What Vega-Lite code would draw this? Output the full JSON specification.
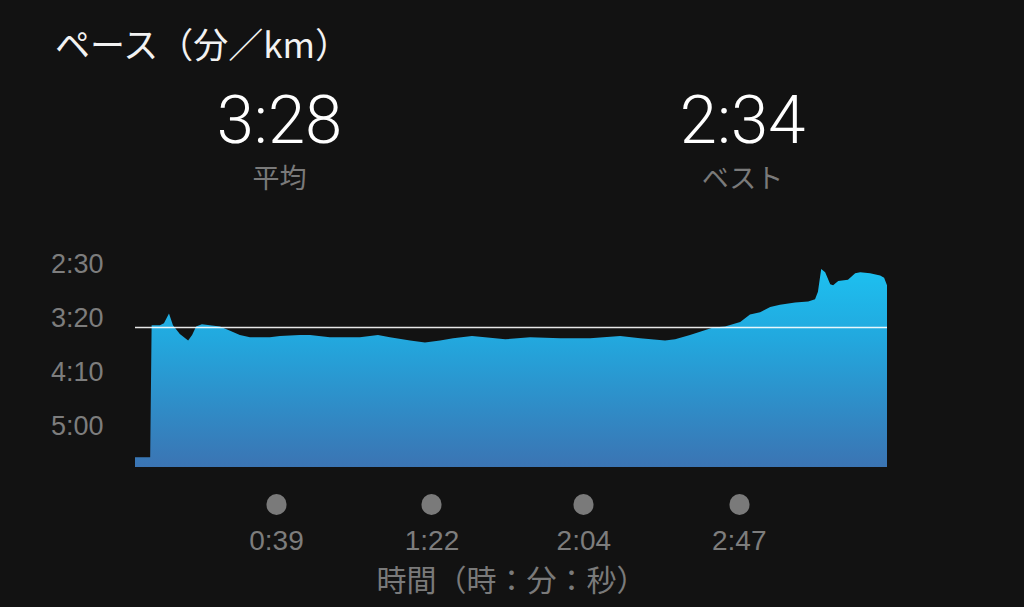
{
  "$schema": "https://vega.github.io/schema/vega-lite/v6.json",
  "background": "#121212",
  "padding": {"left": 50, "top": 30, "right": 140, "bottom": 16},
  "config": {
    "view": {"stroke": null},
    "concat": {"spacing": 49}
  },
  "vconcat": [
    {
      "width": 752,
      "height": 84,
      "title": {
        "text": "ペース（分／km）",
        "anchor": "start",
        "dx": -80,
        "offset": 16,
        "font": "Noto Sans CJK JP",
        "fontSize": 35,
        "fontWeight": "normal",
        "color": "#f2f2f2"
      },
      "data": {"values": [
        {"stat": "平均", "value": "3:28"},
        {"stat": "ベスト", "value": "2:34"}
      ]},
      "encoding": {
        "x": {"field": "stat", "type": "nominal", "sort": null, "scale": {"type": "point", "padding": 0.312}, "axis": null}
      },
      "layer": [
        {
          "mark": {"type": "text", "font": "Roboto", "fontWeight": 300, "fontSize": 67, "color": "#ffffff", "baseline": "middle", "align": "center"},
          "encoding": {"text": {"field": "value"}}
        },
        {
          "mark": {"type": "text", "font": "Noto Sans CJK JP", "fontSize": 27, "color": "#7a7a7a", "baseline": "middle", "align": "center", "dy": 57},
          "encoding": {"text": {"field": "stat"}}
        }
      ]
    },
    {
      "width": 752,
      "height": 225,
      "data": {"values": [
        {"time_min": 0, "pace_sec": 328},
        {"time_min": 4.2, "pace_sec": 328},
        {"time_min": 4.6, "pace_sec": 206},
        {"time_min": 6.9, "pace_sec": 206},
        {"time_min": 8.0, "pace_sec": 204},
        {"time_min": 9.4, "pace_sec": 195},
        {"time_min": 10.5, "pace_sec": 206},
        {"time_min": 12.4, "pace_sec": 214},
        {"time_min": 14.7, "pace_sec": 220},
        {"time_min": 15.8, "pace_sec": 215},
        {"time_min": 16.9, "pace_sec": 207},
        {"time_min": 18.5, "pace_sec": 205},
        {"time_min": 20.7, "pace_sec": 206},
        {"time_min": 23.5, "pace_sec": 207},
        {"time_min": 26.3, "pace_sec": 211},
        {"time_min": 29.0, "pace_sec": 215},
        {"time_min": 31.8, "pace_sec": 217},
        {"time_min": 37.3, "pace_sec": 217},
        {"time_min": 40.1, "pace_sec": 216},
        {"time_min": 45.6, "pace_sec": 215},
        {"time_min": 48.4, "pace_sec": 215},
        {"time_min": 53.9, "pace_sec": 217},
        {"time_min": 62.2, "pace_sec": 217},
        {"time_min": 67.2, "pace_sec": 215},
        {"time_min": 70.5, "pace_sec": 217},
        {"time_min": 76.1, "pace_sec": 220},
        {"time_min": 80.2, "pace_sec": 222},
        {"time_min": 84.4, "pace_sec": 220},
        {"time_min": 88.0, "pace_sec": 218},
        {"time_min": 93.2, "pace_sec": 216},
        {"time_min": 96.8, "pace_sec": 217},
        {"time_min": 102.4, "pace_sec": 219},
        {"time_min": 109.3, "pace_sec": 217},
        {"time_min": 117.6, "pace_sec": 218},
        {"time_min": 125.9, "pace_sec": 218},
        {"time_min": 134.2, "pace_sec": 216},
        {"time_min": 139.7, "pace_sec": 218},
        {"time_min": 146.6, "pace_sec": 220},
        {"time_min": 149.4, "pace_sec": 219},
        {"time_min": 153.5, "pace_sec": 215},
        {"time_min": 156.3, "pace_sec": 212},
        {"time_min": 159.9, "pace_sec": 208},
        {"time_min": 163.2, "pace_sec": 207},
        {"time_min": 167.4, "pace_sec": 203},
        {"time_min": 170.1, "pace_sec": 196},
        {"time_min": 172.9, "pace_sec": 194},
        {"time_min": 175.7, "pace_sec": 189},
        {"time_min": 178.4, "pace_sec": 187},
        {"time_min": 182.6, "pace_sec": 185},
        {"time_min": 186.2, "pace_sec": 184},
        {"time_min": 188.1, "pace_sec": 182},
        {"time_min": 188.9, "pace_sec": 175},
        {"time_min": 189.8, "pace_sec": 154},
        {"time_min": 190.9, "pace_sec": 157},
        {"time_min": 192.3, "pace_sec": 168},
        {"time_min": 193.1, "pace_sec": 169},
        {"time_min": 194.5, "pace_sec": 165},
        {"time_min": 197.2, "pace_sec": 164},
        {"time_min": 199.2, "pace_sec": 158},
        {"time_min": 200.6, "pace_sec": 157},
        {"time_min": 203.3, "pace_sec": 158},
        {"time_min": 206.1, "pace_sec": 160},
        {"time_min": 207.2, "pace_sec": 162},
        {"time_min": 208, "pace_sec": 169}
      ]},
      "layer": [
        {
          "mark": {
            "type": "area",
            "interpolate": "linear",
            "color": {
              "gradient": "linear",
              "x1": 0, "y1": 0, "x2": 0, "y2": 1,
              "stops": [
                {"offset": 0, "color": "#1dc0f0"},
                {"offset": 0.35, "color": "#22a8de"},
                {"offset": 1, "color": "#3b74b3"}
              ]
            }
          },
          "encoding": {
            "x": {
              "field": "time_min", "type": "quantitative",
              "scale": {"domain": [0, 208], "nice": false, "zero": false},
              "axis": {
                "values": [39, 82, 124, 167],
                "labelExpr": "floor(datum.value / 60) + ':' + (datum.value % 60 < 10 ? '0' : '') + (datum.value % 60)",
                "title": "時間（時：分：秒）",
                "titleFont": "Noto Sans CJK JP",
                "titleFontSize": 30,
                "titleFontWeight": "normal",
                "titleColor": "#7a7a7a",
                "titlePadding": 11,
                "domain": false,
                "grid": false,
                "offset": 36.5,
                "ticks": true,
                "tickSize": 1,
                "tickWidth": 20,
                "tickCap": "round",
                "tickColor": "#7a7a7a",
                "labelFont": "Liberation Sans",
                "labelFontSize": 28,
                "labelColor": "#7d7d7d",
                "labelPadding": 23,
                "labelFlush": false
              }
            },
            "y": {
              "field": "pace_sec", "type": "quantitative",
              "scale": {"domain": [129, 337], "reverse": true, "nice": false, "zero": false},
              "axis": {
                "values": [150, 200, 250, 300],
                "labelExpr": "floor(datum.value / 60) + ':' + (datum.value % 60 < 10 ? '0' : '') + (datum.value % 60)",
                "title": null,
                "domain": false,
                "grid": false,
                "ticks": false,
                "labelFont": "Liberation Sans",
                "labelFontSize": 27,
                "labelColor": "#7d7d7d",
                "labelPadding": 32
              }
            },
            "y2": {"datum": 337}
          }
        },
        {
          "data": {"values": [{"average_pace_sec": 208}]},
          "mark": {"type": "rule", "color": "#ffffff", "strokeWidth": 1.5, "opacity": 0.9},
          "encoding": {
            "y": {"field": "average_pace_sec", "type": "quantitative"}
          }
        }
      ]
    }
  ]
}
